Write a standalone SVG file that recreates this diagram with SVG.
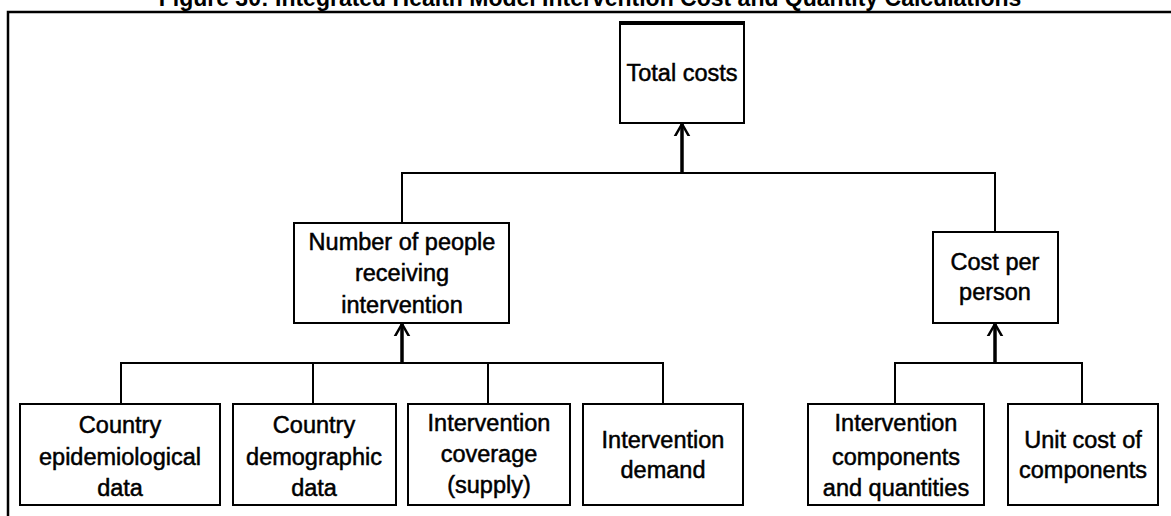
<svg xmlns="http://www.w3.org/2000/svg" width="1171" height="516" viewBox="0 0 1171 516">
<style>
  .box { fill: #ffffff; stroke: #000000; stroke-width: 2; }
  .lbl { font-family: "Liberation Sans", Arial, sans-serif; font-size: 23.5px; fill: #000000; stroke: #000000; stroke-width: 0.5; text-anchor: middle; }
  .title { font-family: "Liberation Sans", Arial, sans-serif; font-size: 23px; font-weight: bold; fill: #000000; text-anchor: middle; }
  .conn { fill: none; stroke: #000000; stroke-width: 2; }
  .shaft { fill: none; stroke: #000000; stroke-width: 3.5; }
  .frame { fill: none; stroke: #000000; stroke-width: 2.5; }
</style>
<defs>
  <marker id="open" markerUnits="userSpaceOnUse" markerWidth="24" markerHeight="24" viewBox="-12 -12 24 24" refX="0" refY="0" orient="auto">
    <path d="M -14 -8 L 0 0 L -14 8" fill="none" stroke="#000000" stroke-width="2.5"/>
  </marker>
</defs>
<rect x="0" y="0" width="1171" height="516" fill="#ffffff"/>
<text class="title" x="590" y="6">Figure 30: Integrated Health Model Intervention Cost and Quantity Calculations</text>
<path class="frame" d="M 8 516 L 8 12 L 1171 12"/>

<g id="connectors">
  <path class="conn" d="M 402 223 L 402 173 L 995 173 L 995 232"/>
  <path class="shaft" d="M 682 173 L 682 124" marker-end="url(#open)"/>
  <path class="conn" d="M 121 404 L 121 363 L 663 363 L 663 404"/>
  <path class="conn" d="M 313 363 L 313 404"/>
  <path class="conn" d="M 488 363 L 488 404"/>
  <path class="shaft" d="M 402 363 L 402 324" marker-end="url(#open)"/>
  <path class="conn" d="M 895 404 L 895 363 L 1082 363 L 1082 404"/>
  <path class="shaft" d="M 995 363 L 995 324" marker-end="url(#open)"/>
</g>

<g id="total-costs">
  <rect class="box" x="620" y="23" width="124" height="100"/>
  <line x1="619" y1="23" x2="745" y2="23" stroke="#000000" stroke-width="4"/>
  <text class="lbl" x="682" y="81">Total costs</text>
</g>

<g id="number-of-people">
  <rect class="box" x="294" y="223" width="215" height="100"/>
  <text class="lbl" x="402" y="250">Number of people</text>
  <text class="lbl" x="402" y="281">receiving</text>
  <text class="lbl" x="402" y="313">intervention</text>
</g>

<g id="cost-per-person">
  <rect class="box" x="933" y="232" width="125" height="91"/>
  <text class="lbl" x="995" y="270">Cost per</text>
  <text class="lbl" x="995" y="300">person</text>
</g>

<g id="epidemiological">
  <rect class="box" x="20" y="404" width="200" height="101"/>
  <text class="lbl" x="120" y="433">Country</text>
  <text class="lbl" x="120" y="465">epidemiological</text>
  <text class="lbl" x="120" y="496">data</text>
</g>

<g id="demographic">
  <rect class="box" x="233" y="404" width="163" height="101"/>
  <text class="lbl" x="314" y="433">Country</text>
  <text class="lbl" x="314" y="465">demographic</text>
  <text class="lbl" x="314" y="496">data</text>
</g>

<g id="coverage">
  <rect class="box" x="408" y="404" width="162" height="101"/>
  <text class="lbl" x="489" y="431">Intervention</text>
  <text class="lbl" x="489" y="462">coverage</text>
  <text class="lbl" x="489" y="493">(supply)</text>
</g>

<g id="demand">
  <rect class="box" x="583" y="404" width="160" height="101"/>
  <text class="lbl" x="663" y="448">Intervention</text>
  <text class="lbl" x="663" y="478">demand</text>
</g>

<g id="components">
  <rect class="box" x="808" y="404" width="176" height="101"/>
  <text class="lbl" x="896" y="431">Intervention</text>
  <text class="lbl" x="896" y="465">components</text>
  <text class="lbl" x="896" y="496">and quantities</text>
</g>

<g id="unit-cost">
  <rect class="box" x="1008" y="404" width="150" height="101"/>
  <text class="lbl" x="1083" y="448">Unit cost of</text>
  <text class="lbl" x="1083" y="478">components</text>
</g>
</svg>
